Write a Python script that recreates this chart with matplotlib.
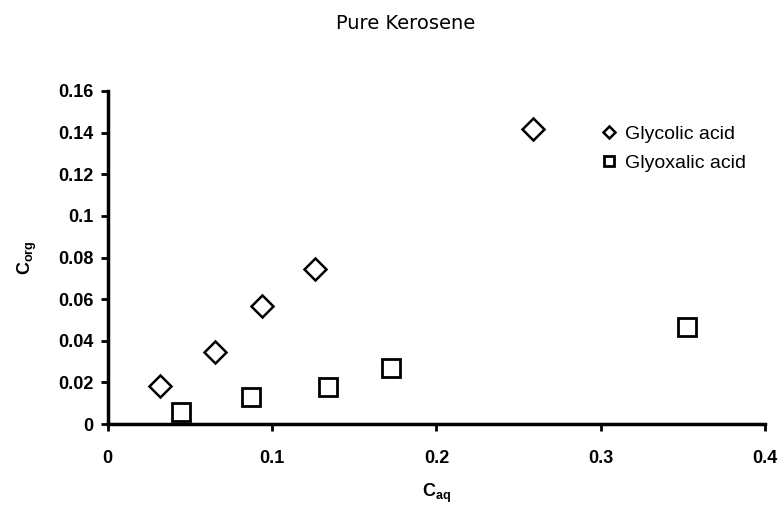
import matplotlib.pyplot as plt

plt.rcParams['font.family'] = ['Liberation Sans', 'DejaVu Sans']

# glycolic acid (diamonds)
glycolic_aq = [0.032, 0.0655, 0.0942, 0.1259, 0.2587]
glycolic_org = [0.0183, 0.0346, 0.0567, 0.0745, 0.1416]

# glyoxalic acid (squares)
glyoxalic_aq = [0.0448, 0.0875, 0.1338, 0.1722, 0.3526]
glyoxalic_org = [0.0058, 0.0130, 0.0178, 0.0269, 0.0465]

xticks = [0, 0.1, 0.2, 0.3, 0.4]
xtick_labels = ['0', '0.1', '0.2', '0.3', '0.4']
yticks = [0, 0.02, 0.04, 0.06, 0.08, 0.1, 0.12, 0.14, 0.16]
ytick_labels = ['0', '0.02', '0.04', '0.06', '0.08', '0.1', '0.12', '0.14', '0.16']

fig = plt.figure(figsize=(7.8, 5.14), dpi=100)
ax = fig.add_axes([0.138, 0.175, 0.843, 0.648])

ax.plot(glycolic_aq, glycolic_org, linestyle='none', marker='D', ms=11,
        mfc='white', mec='black', mew=1.8, label='Glycolic acid')
ax.plot(glyoxalic_aq, glyoxalic_org, linestyle='none', marker='s', ms=13,
        mfc='white', mec='black', mew=2.0, label='Glyoxalic acid')

ax.set_xlim(0, 0.4)
ax.set_ylim(0, 0.16)
ax.set_xticks(xticks)
ax.set_xticklabels(xtick_labels)
ax.set_yticks(yticks)
ax.set_yticklabels(ytick_labels)

for s in ['top', 'right']:
    ax.spines[s].set_visible(False)
for s in ['left', 'bottom']:
    ax.spines[s].set_linewidth(2.5)

ax.tick_params(direction='out', length=5, width=2, labelsize=13)
ax.tick_params(axis='x', pad=14)
ax.tick_params(axis='y', pad=5)
for lab in ax.get_xticklabels() + ax.get_yticklabels():
    lab.set_fontweight('bold')

ax.set_xlabel(r'C$_{\mathregular{aq}}$', fontsize=13, fontweight='bold', labelpad=10)
ax.set_ylabel(r'C$_{\mathregular{org}}$', fontsize=13, fontweight='bold', labelpad=14)

fig.text(0.52, 0.955, 'Pure Kerosene', ha='center', va='center', fontsize=14,
         family='DejaVu Sans')

fig.legend(loc='upper left', bbox_to_anchor=(0.771, 0.757), frameon=False,
           markerscale=0.55, handletextpad=0.4, labelspacing=0.6, fontsize=14,
           handlelength=0.8, borderpad=0, borderaxespad=0)

fig.savefig('out.png', dpi=100)
